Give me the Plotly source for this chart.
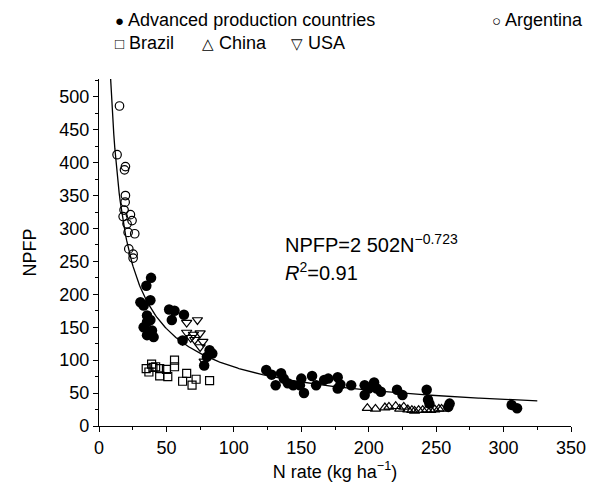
import numpy as np
import plotly.graph_objects as go

# ---- data ----
adv_x = [30.7, 33.1, 35.1, 38.6, 38.1, 35.6, 35.6, 38.1, 33.1, 39.3, 35.6, 40.5,
         52, 56, 54, 63, 62, 82, 84, 80, 78,
         124, 128, 131, 135, 137, 140, 144, 149, 150, 152, 158, 161, 167, 170,
         177, 179, 177, 187, 197, 197, 200, 204, 206, 209, 221, 225,
         243, 244, 245, 260, 259, 306, 310]
adv_y = [188, 183, 213, 225, 191, 168, 158, 161, 150, 145, 138, 135,
         177, 175, 161, 169, 130, 115, 110, 105, 92,
         85, 78, 62, 80, 72, 65, 62, 62, 72, 50, 76, 62, 70, 72,
         74, 63, 57, 62, 62, 47, 57, 66, 57, 52, 55, 47,
         55, 40, 34, 34, 29, 32, 27]

arg_x = [15.2, 13.4, 19.6, 18.9, 19.6, 19.4, 18.6, 23.3, 17.9, 24.5, 20.8, 21.6,
         26.5, 22.1, 25.3, 25.3]
arg_y = [486, 412, 394, 389, 350, 340, 328, 321, 318, 312, 307, 294,
         292, 269, 261, 255]

bra_x = [35, 37, 39, 40, 42, 45, 45, 50, 51, 56, 56, 65, 62, 69, 72, 82]
bra_y = [87, 82, 94, 89, 90, 87, 76, 86, 75, 100, 90, 80, 68, 62, 71, 69]

chn_x = [199, 205, 212, 215, 220, 223, 226, 229, 232, 234, 237, 240, 243, 246,
         249, 252, 254]
chn_y = [27, 26, 28, 29, 30, 26, 29, 25, 24, 23, 24, 24, 25, 24, 25, 26, 26]

usa_x = [65, 73, 65, 70, 75, 62, 68, 71, 77, 75, 78]
usa_y = [157, 161, 142, 139, 141, 130, 134, 131, 128, 120, 98]

# fitted curve NPFP = a * N^b (as printed on the chart)
fit_a = 2502
fit_b = -0.723
fit_n_min, fit_n_max = 8.6, 325

x_ticks = [0, 50, 100, 150, 200, 250, 300, 350]
y_ticks = [0, 50, 100, 150, 200, 250, 300, 350, 400, 450, 500]

FONT = "Liberation Sans, Arial, sans-serif"

fig = go.Figure()

fx = np.linspace(fit_n_min, fit_n_max, 400)
fig.add_trace(go.Scatter(x=fx, y=fit_a * fx ** fit_b, mode="lines",
                         line=dict(color="black", width=1.3), showlegend=False,
                         hoverinfo="skip"))

fig.add_trace(go.Scatter(x=bra_x, y=bra_y, mode="markers", name="Brazil",
                         marker=dict(symbol="square-open", size=8, color="black",
                                     line=dict(width=1.2))))
fig.add_trace(go.Scatter(x=chn_x, y=chn_y, mode="markers", name="China",
                         marker=dict(symbol="triangle-up-open", size=9, color="black",
                                     line=dict(width=1.2))))
fig.add_trace(go.Scatter(x=usa_x, y=usa_y, mode="markers", name="USA",
                         marker=dict(symbol="triangle-down-open", size=9, color="black",
                                     line=dict(width=1.2))))
fig.add_trace(go.Scatter(x=arg_x, y=arg_y, mode="markers", name="Argentina",
                         marker=dict(symbol="circle-open", size=8.5, color="black",
                                     line=dict(width=1.2))))
fig.add_trace(go.Scatter(x=adv_x, y=adv_y, mode="markers",
                         name="Advanced production countries",
                         marker=dict(symbol="circle", size=10.5, color="black")))

axis_common = dict(showline=True, linecolor="black", linewidth=1.2,
                   ticks="outside", ticklen=5, tickwidth=1.2, tickcolor="black",
                   showgrid=False, zeroline=False, mirror=False, automargin=False,
                   tickfont=dict(family=FONT, size=18, color="black"),
                   minor=dict(ticks="outside", ticklen=3, tickwidth=1.2,
                              tickcolor="black", dtick=25, showgrid=False))

fig.update_xaxes(range=[0, 350], tickvals=x_ticks,
                 title=dict(text="N rate (kg ha<sup>−1</sup>)",
                            font=dict(family=FONT, size=18, color="black"),
                            standoff=8),
                 **axis_common)
fig.update_yaxes(range=[0, 527], tickvals=y_ticks,
                 title=dict(text="NPFP", font=dict(family=FONT, size=18, color="black"),
                            standoff=17),
                 **axis_common)

PLOT_L, PLOT_T, PLOT_W, PLOT_H = 98.5, 79, 473.0, 347.0

legend_items = [
    ("●", "Advanced production countries", 113, 20),
    ("○", "Argentina", 490, 20),
    ("□", "Brazil", 113, 43),
    ("△", "China", 200, 43),
    ("▽", "USA", 289, 43),
]
annotations = []
for sym, txt, px, py in legend_items:
    annotations.append(dict(text=f"<span style='font-size:15px'>{sym}</span> {txt}",
                            xref="paper", yref="paper",
                            x=(px - PLOT_L) / PLOT_W, y=1 + (PLOT_T - py) / PLOT_H,
                            xanchor="left", yanchor="middle", showarrow=False,
                            font=dict(family=FONT, size=18, color="black")))

eq_items = [
    ("NPFP=2 502N<sup>−0.723</sup>", 283, 243),
    ("<i>R</i><sup>2</sup>=0.91", 283, 271),
]
for txt, px, py in eq_items:
    annotations.append(dict(text=txt, xref="paper", yref="paper",
                            x=(px - PLOT_L) / PLOT_W, y=1 - (py - PLOT_T) / PLOT_H,
                            xanchor="left", yanchor="middle", showarrow=False,
                            font=dict(family=FONT, size=20, color="black")))

fig.update_layout(width=610, height=493, showlegend=False,
                  margin=dict(l=PLOT_L, r=610 - PLOT_L - PLOT_W, t=PLOT_T,
                              b=493 - PLOT_T - PLOT_H),
                  plot_bgcolor="white", paper_bgcolor="white",
                  annotations=annotations)

fig.write_html("out.html", config={"displayModeBar": False},
               post_script="document.body.style.margin='0px';")
